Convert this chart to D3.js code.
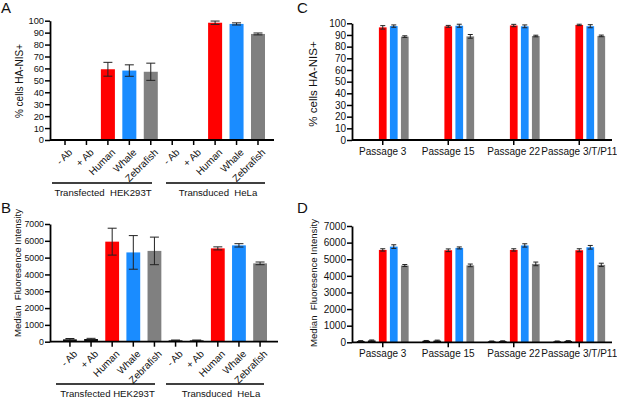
<!DOCTYPE html>
<html><head><meta charset="utf-8">
<script src="https://d3js.org/d3.v7.min.js"></script>
<style>
body{margin:0;background:#fff;}
svg{font-family:"Liberation Sans",Arial,sans-serif;}
text{white-space:pre;}
</style></head>
<body><svg id="c" width="617" height="400"></svg>
<script>
// ---- data ----
const categoriesAB = ["- Ab", "+ Ab", "Human", "Whale", "Zebrafish", "- Ab", "+ Ab", "Human", "Whale", "Zebrafish"];
const groupsA = ["Transfected  HEK293T", "Transduced  HeLa"];
const groupsB = ["Transfected HEK293T", "Transduced  HeLa"];
const pctA = [0, 0, 59.3, 58.2, 57.2, 0, 0, 98.3, 97.3, 88.9];
const pctErrA = [0, 0, 5.8, 4.8, 7.2, 0, 0, 1.4, 0.9, 0.8];
const mfiB = [140, 160, 5950, 5310, 5400, 80, 80, 5550, 5730, 4660];
const mfiErrB = [50, 40, 800, 1000, 820, 20, 20, 90, 100, 80];

const passages = ["Passage 3", "Passage 15", "Passage 22", "Passage 3/T/P11"];
const seriesCD = ["- Ab", "+ Ab", "Human", "Whale", "Zebrafish"];
const pctC = [[0, 0, 96.5, 97.6, 88.6], [0, 0, 97.4, 97.9, 88.8], [0, 0, 98.1, 97.4, 89.1], [0, 0, 98.6, 97.5, 89.2]];
const pctErrC = [[0, 0, 1.5, 1.0, 0.7], [0, 0, 0.8, 1.3, 1.6], [0, 0, 1.0, 1.2, 0.7], [0, 0, 0.6, 1.3, 0.7]];
const mfiD = [[80, 110, 5560, 5760, 4620], [90, 100, 5540, 5680, 4630], [60, 70, 5560, 5830, 4720], [60, 80, 5540, 5720, 4660]];
const mfiErrD = [[20, 30, 70, 110, 60], [20, 30, 80, 60, 80], [20, 20, 70, 100, 110], [20, 20, 90, 110, 100]];

const pctTicks = [0, 10, 20, 30, 40, 50, 60, 70, 80, 90, 100];
const mfiTicks = [0, 1000, 2000, 3000, 4000, 5000, 6000, 7000];

const seriesColor = {"- Ab": "#111111", "+ Ab": "#111111", "Human": "#ff0000", "Whale": "#1a8cff", "Zebrafish": "#808080"};

const svg = d3.select("#c");

function yAxis(g, y, ticks, x0, fs) {
  const ax = g.append("g").attr("transform", `translate(${x0},0)`)
    .call(d3.axisLeft(y).tickValues(ticks).tickSize(5).tickSizeOuter(0).tickPadding(1).tickFormat(d3.format("d")));
  ax.select(".domain").attr("stroke-width", 1.8);
  ax.selectAll(".tick line").attr("stroke-width", 1.5);
  ax.selectAll("text").attr("font-size", fs).attr("font-family", "Liberation Sans, Arial, sans-serif").attr("fill", "#111");
}

function errBars(g, data, cap) {
  const e = g.selectAll(null).data(data).join("g").attr("stroke", "#222").attr("stroke-width", 1);
  e.append("line").attr("x1", d => d.cx).attr("x2", d => d.cx).attr("y1", d => d.yTop).attr("y2", d => d.yBot);
  e.append("line").attr("x1", d => d.cx - cap / 2).attr("x2", d => d.cx + cap / 2).attr("y1", d => d.yTop).attr("y2", d => d.yTop);
  e.append("line").attr("x1", d => d.cx - cap / 2).attr("x2", d => d.cx + cap / 2).attr("y1", d => d.yBot).attr("y2", d => d.yBot);
}

function panelAB(opt) {
  const g = svg.append("g");
  const y = d3.scaleLinear().domain([0, opt.max]).range([opt.y0, opt.y1]);
  const idx = d3.range(categoriesAB.length);
  const x = d3.scaleBand().domain(idx).range(opt.xr).paddingInner(0.346).paddingOuter(opt.po);
  const bw = x.bandwidth();
  const data = idx.map(i => ({i, cat: categoriesAB[i], v: opt.vals[i], e: opt.errs[i]}));
  g.selectAll("rect").data(data.filter(d => d.v > 0)).join("rect")
    .attr("x", d => x(d.i)).attr("width", bw)
    .attr("y", d => y(d.v)).attr("height", d => y(0) - y(d.v))
    .attr("fill", d => seriesColor[d.cat]);
  errBars(g, data.filter(d => d.v > 0).map(d => ({cx: x(d.i) + bw / 2, yTop: y(d.v + d.e), yBot: y(Math.max(0, d.v - d.e))})), 9);
  // axes
  yAxis(g, y, opt.ticks, opt.ax, opt.tfs);
  g.append("line").attr("x1", opt.ax).attr("x2", opt.xr[1] + 1).attr("y1", y(0)).attr("y2", y(0)).attr("stroke", "#000").attr("stroke-width", 1.8);
  g.selectAll(".xt").data(idx).join("line").attr("class", "xt")
    .attr("x1", i => x(i) + bw / 2).attr("x2", i => x(i) + bw / 2)
    .attr("y1", y(0)).attr("y2", y(0) + 5).attr("stroke", "#000").attr("stroke-width", 1.5);
  g.selectAll(".xl").data(idx).join("text").attr("class", "xl")
    .attr("transform", i => `translate(${x(i) + bw / 2 + 3},${y(0) + 8}) rotate(-45)`)
    .attr("text-anchor", "end").attr("dy", "0.7em").attr("font-size", 10).attr("fill", "#111")
    .text(i => categoriesAB[i]);
  // group brackets
  opt.brackets.forEach((b, k) => {
    g.append("line").attr("x1", b[0]).attr("x2", b[1]).attr("y1", opt.by).attr("y2", opt.by).attr("stroke", "#000").attr("stroke-width", 1.3);
    g.append("text").attr("x", opt.gx[k]).attr("y", opt.by + 13).attr("text-anchor", "middle").attr("font-size", 9.6).attr("fill", "#111").text(opt.groups[k]);
  });
  g.append("text").attr("transform", `translate(${opt.lx},${opt.ly}) rotate(-90)`).attr("text-anchor", "middle")
    .attr("font-size", opt.lfs).attr("fill", "#111").text(opt.label);
  g.append("text").attr("x", 1).attr("y", opt.letterY).attr("font-size", 15).attr("fill", "#111").text(opt.letter);
}

function panelCD(opt) {
  const g = svg.append("g");
  const y = d3.scaleLinear().domain([0, opt.max]).range([opt.y0, opt.y1]);
  const x = d3.scaleBand().domain(passages).range([350, 612]);
  const xi = d3.scaleBand().domain(seriesCD).range([-29.2, 29.2]).padding(0.3);
  const bw = xi.bandwidth();
  const data = [];
  passages.forEach((p, pi) => seriesCD.forEach((s, si) => {
    data.push({p, s, v: opt.vals[pi][si], e: opt.errs[pi][si], cx: x(p) + x.bandwidth() / 2 + xi(s) + bw / 2});
  }));
  const vis = data.filter(d => d.v > 0);
  g.selectAll("rect").data(vis).join("rect")
    .attr("x", d => d.cx - bw / 2).attr("width", bw)
    .attr("y", d => y(d.v)).attr("height", d => y(0) - y(d.v))
    .attr("fill", d => seriesColor[d.s]);
  errBars(g, vis.map(d => ({cx: d.cx, yTop: y(d.v + d.e), yBot: y(Math.max(0, d.v - d.e))})), 5);
  yAxis(g, y, opt.ticks, opt.ax, 10);
  g.append("line").attr("x1", opt.ax).attr("x2", 612).attr("y1", y(0)).attr("y2", y(0)).attr("stroke", "#000").attr("stroke-width", 1.8);
  g.selectAll(".xt").data(passages).join("line").attr("class", "xt")
    .attr("x1", p => x(p) + x.bandwidth() / 2).attr("x2", p => x(p) + x.bandwidth() / 2)
    .attr("y1", y(0)).attr("y2", y(0) + 5).attr("stroke", "#000").attr("stroke-width", 1.5);
  g.selectAll(".xl").data(passages).join("text").attr("class", "xl")
    .attr("x", p => x(p) + x.bandwidth() / 2).attr("y", y(0) + 15)
    .attr("text-anchor", "middle").attr("font-size", 10).attr("fill", "#111").text(p => p);
  g.append("text").attr("transform", `translate(${opt.lx},${opt.ly}) rotate(-90)`).attr("text-anchor", "middle")
    .attr("font-size", opt.lfs).attr("fill", "#111").text(opt.label);
  g.append("text").attr("x", 297).attr("y", opt.letterY).attr("font-size", 15).attr("fill", "#111").text(opt.letter);
}

panelAB({max: 100, y0: 140, y1: 20.7, ticks: pctTicks, vals: pctA, errs: pctErrA, ax: 50, xr: [50, 273], po: 0.373,
  brackets: [[52, 152], [166, 265]], by: 183, gx: [103, 218], groups: groupsA, tfs: 9.3,
  label: "% cells HA-NIS+", lx: 23, ly: 81, lfs: 10, letter: "A", letterY: 13});
panelAB({max: 7000, y0: 341.7, y1: 224, ticks: mfiTicks, vals: mfiB, errs: mfiErrB, ax: 50, xr: [53, 277], po: 0.474,
  brackets: [[56, 155], [166, 264]], by: 384, gx: [107.5, 221], groups: groupsB, tfs: 8.8,
  label: "Median  Fluoresence Intensity", lx: 21, ly: 273, lfs: 9.6, letter: "B", letterY: 213});
panelCD({max: 100, y0: 140, y1: 23.3, ticks: pctTicks, vals: pctC, errs: pctErrC, ax: 352,
  label: "% cells HA-NIS+", lx: 317, ly: 84, lfs: 11.5, letter: "C", letterY: 13});
panelCD({max: 7000, y0: 342.3, y1: 226, ticks: mfiTicks, vals: mfiD, errs: mfiErrD, ax: 352,
  label: "Median  Fluoresence Intensity", lx: 317, ly: 283, lfs: 9.6, letter: "D", letterY: 213});
</script></body></html>
